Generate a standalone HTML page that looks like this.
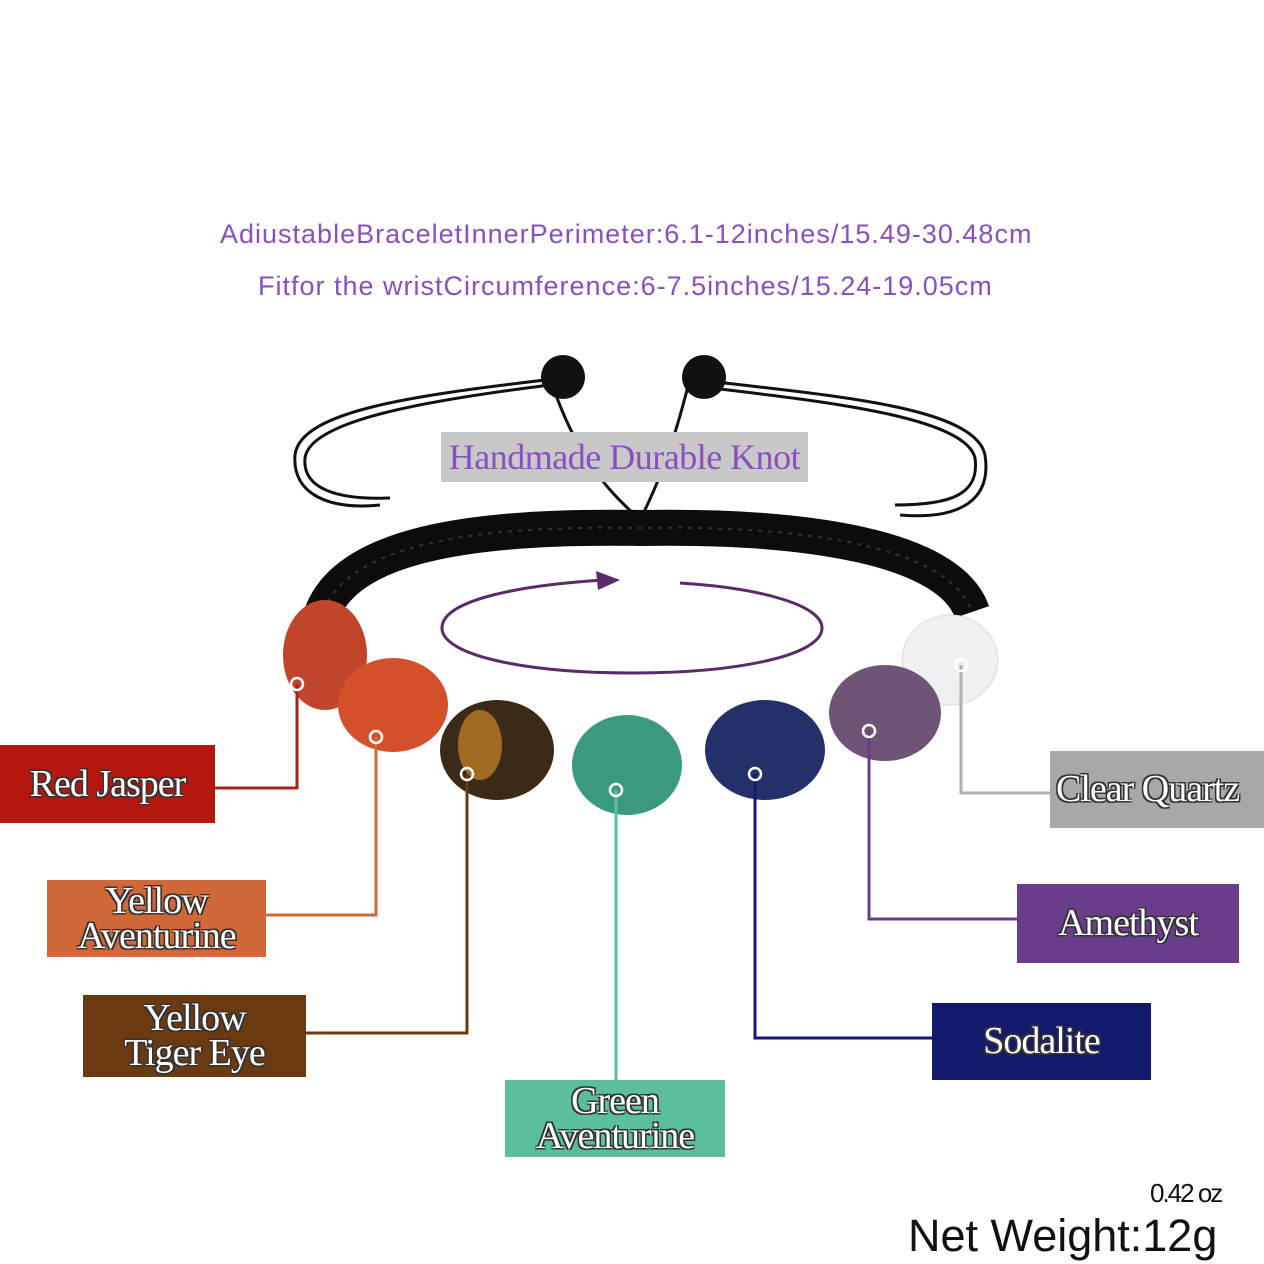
<!DOCTYPE html>
<html><head><meta charset="utf-8"><style>
html,body{margin:0;padding:0;background:#fff;}
body{width:1264px;height:1264px;position:relative;overflow:hidden;font-family:"Liberation Sans",sans-serif;}
.t{position:absolute;color:#8a4fc0;font-size:27px;letter-spacing:1px;white-space:nowrap;}
.box{position:absolute;display:flex;align-items:center;justify-content:center;text-align:center;font-family:"Liberation Serif",serif;color:#fff;font-size:38px;line-height:35px;
text-shadow:-1.5px -1.5px 0 #333,1.5px -1.5px 0 #333,-1.5px 1.5px 0 #333,1.5px 1.5px 0 #333;letter-spacing:-1px;}
</style></head><body>
<div class="t" style="left:220px;top:219px;">AdiustableBraceletInnerPerimeter:6.1-12inches/15.49-30.48cm</div>
<div class="t" style="left:258px;top:271px;">Fitfor the wristCircumference:6-7.5inches/15.24-19.05cm</div>

<svg width="1264" height="1264" style="position:absolute;left:0;top:0">
<g fill="none" stroke="#111" stroke-width="3">
<path d="M545 380 C420 395 300 410 295 455 C292 495 330 510 380 505"/>
<path d="M550 385 C430 400 310 420 305 458 C302 490 340 500 390 498"/>
<path d="M700 380 C820 395 975 405 985 455 C992 500 960 520 900 515"/>
<path d="M695 386 C810 400 965 415 975 458 C980 495 950 505 895 505"/>
<path d="M550 378 C580 470 620 500 640 520"/>
<path d="M690 378 C670 460 650 500 640 520"/>
</g>
<path d="M320 620 C340 545 470 525 640 528 C810 525 950 548 972 612" fill="none" stroke="#0c0c0c" stroke-width="36"/>
<path d="M320 620 C340 545 470 525 640 528 C810 525 950 548 972 612" fill="none" stroke="#333" stroke-width="2" stroke-dasharray="4 6"/>
<circle cx="563" cy="377" r="22" fill="#111"/>
<circle cx="704" cy="377" r="22" fill="#111"/>
<path d="M680 583 C760 588 822 605 822 628 C822 655 740 673 632 673 C524 673 442 655 442 628 C442 600 520 585 605 580" fill="none" stroke="#5a2a6a" stroke-width="3"/>
<polygon points="620,580 596,571 598,590" fill="#5a2a6a"/>
<ellipse cx="325" cy="655" rx="42" ry="55" fill="#c0452a"/>
<ellipse cx="950" cy="660" rx="48" ry="45" fill="#eef0f2" stroke="#ddd"/>
<ellipse cx="885" cy="713" rx="56" ry="48" fill="#6e5578"/>
<ellipse cx="393" cy="705" rx="55" ry="47" fill="#d4502a"/>
<ellipse cx="497" cy="750" rx="57" ry="50" fill="#3a2a18"/>
<ellipse cx="480" cy="745" rx="22" ry="35" fill="#a06a20"/>
<ellipse cx="765" cy="750" rx="60" ry="50" fill="#25306a"/>
<ellipse cx="627" cy="765" rx="55" ry="50" fill="#3a9a80"/>
<g fill="none" stroke-width="3">
<path d="M297 684 V788 H215" stroke="#a8211a"/>
<path d="M376 737 V915 H266" stroke="#d0683a"/>
<path d="M467 774 V1033 H306" stroke="#6b3a10"/>
<path d="M616 790 V1080" stroke="#5bbf9c"/>
<path d="M755 774 V1038 H932" stroke="#141a6b"/>
<path d="M869 731 V919 H1017" stroke="#6a3d8a"/>
<path d="M961 665 V793 H1050" stroke="#b0b0b0"/>
</g>
<g fill="none" stroke="#fff" stroke-width="2.5">
<circle cx="297" cy="684" r="6"/><circle cx="376" cy="737" r="6"/><circle cx="467" cy="774" r="6"/>
<circle cx="616" cy="790" r="6"/><circle cx="755" cy="774" r="6"/><circle cx="869" cy="731" r="6"/><circle cx="961" cy="665" r="6"/>
</g>
</svg>

<div class="box" style="left:441px;top:432px;width:367px;height:50px;background:#c8c8c8;color:#8a4fc0;text-shadow:none;font-size:36px;letter-spacing:-0.5px;">Handmade Durable Knot</div>
<div class="box" style="left:0;top:745px;width:215px;height:78px;background:#b5170f;">Red Jasper</div>
<div class="box" style="left:47px;top:880px;width:219px;height:77px;background:#d0683a;">Yellow<br>Aventurine</div>
<div class="box" style="left:83px;top:995px;width:223px;height:82px;background:#6b3a10;">Yellow<br>Tiger Eye</div>
<div class="box" style="left:505px;top:1080px;width:220px;height:77px;background:#5bbf9c;">Green<br>Aventurine</div>
<div class="box" style="left:932px;top:1003px;width:219px;height:77px;background:#141a6b;">Sodalite</div>
<div class="box" style="left:1017px;top:884px;width:222px;height:79px;background:#6a3d8a;">Amethyst</div>
<div class="box" style="left:1050px;top:751px;width:214px;height:77px;background:#a8a8a8;justify-content:flex-start;padding-left:6px;box-sizing:border-box;overflow:hidden;white-space:nowrap;">Clear Quartz</div>

<div style="position:absolute;left:1150px;top:1178px;font-size:26px;color:#111;letter-spacing:-2px;">0.42 oz</div>
<div style="position:absolute;left:908px;top:1210px;font-size:45px;color:#111;">Net Weight:12g</div>
</body></html>
